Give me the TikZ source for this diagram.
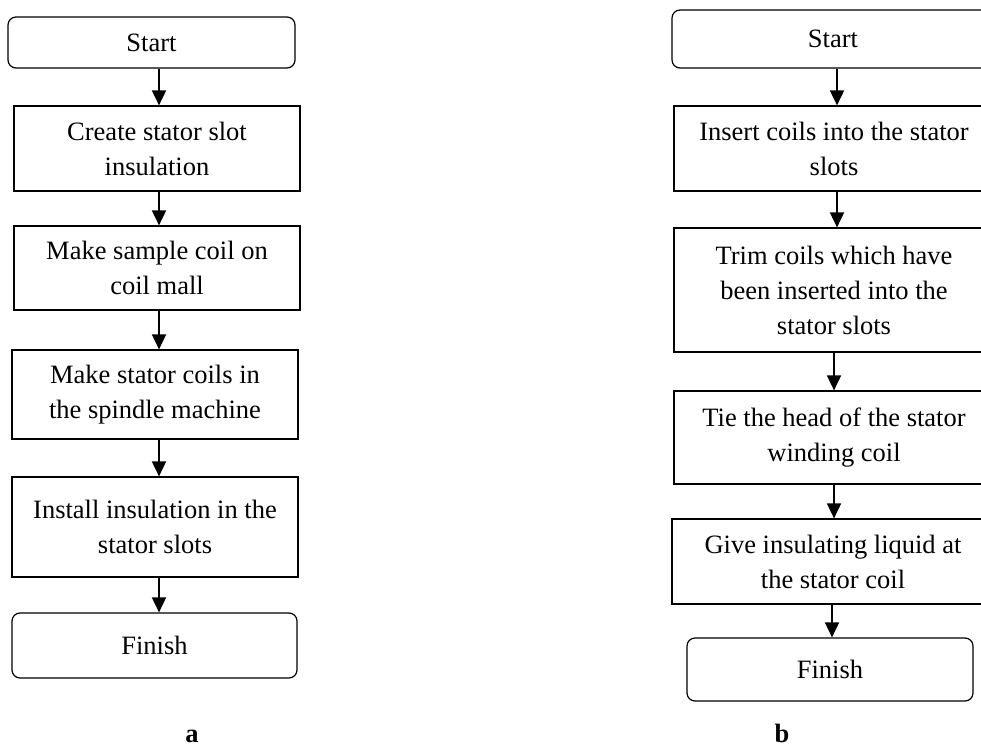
\documentclass[tikz,border=0pt]{standalone}
\usepackage{fontspec}
\setmainfont{Liberation Serif}
\usetikzlibrary{arrows.meta}
\begin{document}
\begin{tikzpicture}[x=1pt,y=-1pt,
  every node/.style={font=\fontsize{26.5}{35}\selectfont},
  stepbox/.style={draw, line width=1.2pt, inner sep=0pt, align=center},
  termbox/.style={stepbox, rounded corners=8pt},
  arr/.style={line width=1.8pt, -{Triangle[length=15pt,width=14pt]}},
  lbl/.style={font=\fontsize{26.5}{35}\selectfont\bfseries, anchor=base}]
\useasboundingbox (0,0) rectangle (981,746);
\clip (0,0) rectangle (981,746);
% left chart
\node[termbox, minimum width=287pt, minimum height=51pt] (s1) at (151.5,42.5) {Start};
\node[stepbox, minimum width=286pt, minimum height=85pt] (s2) at (157,148.5) {Create stator slot\\insulation};
\node[stepbox, minimum width=286pt, minimum height=84pt] (s3) at (157,268) {Make sample coil on\\coil mall};
\node[stepbox, minimum width=286pt, minimum height=89pt] (s4) at (155,394.5) {Make stator coils in\\the spindle machine};
\node[stepbox, minimum width=286pt, minimum height=100pt] (s5) at (155,527) {Install insulation in the\\stator slots};
\node[termbox, minimum width=285pt, minimum height=65pt] (s6) at (154.5,645.5) {Finish};
\coordinate (ax) at (159,0);
\draw[arr] (s1.south -| ax) -- (s2.north -| ax);
\draw[arr] (s2.south -| ax) -- (s3.north -| ax);
\draw[arr] (s3.south -| ax) -- (s4.north -| ax);
\draw[arr] (s4.south -| ax) -- (s5.north -| ax);
\draw[arr] (s5.south -| ax) -- (s6.north -| ax);
\node[lbl] (la) at (192,742) {a};
% right chart
\node[termbox, minimum width=322pt, minimum height=58pt] (r1) at (833,39) {Start};
\node[stepbox, minimum width=320pt, minimum height=85pt] (r2) at (834,148.5) {Insert coils into the stator\\slots};
\node[stepbox, minimum width=320pt, minimum height=124pt] (r3) at (834,290) {Trim coils which have\\been inserted into the\\stator slots};
\node[stepbox, minimum width=320pt, minimum height=93pt] (r4) at (834,437.5) {Tie the head of the stator\\winding coil};
\node[stepbox, minimum width=322pt, minimum height=85pt] (r5) at (833,561.5) {Give insulating liquid at\\the stator coil};
\node[termbox, minimum width=286pt, minimum height=63pt] (r6) at (830,669.5) {Finish};
\coordinate (bx1) at (837,0);
\coordinate (bx2) at (834,0);
\coordinate (bx3) at (832,0);
\draw[arr] (r1.south -| bx1) -- (r2.north -| bx1);
\draw[arr] (r2.south -| bx1) -- (r3.north -| bx1);
\draw[arr] (r3.south -| bx2) -- (r4.north -| bx2);
\draw[arr] (r4.south -| bx2) -- (r5.north -| bx2);
\draw[arr] (r5.south -| bx3) -- (r6.north -| bx3);
\node[lbl] (lb) at (782,742) {b};
\end{tikzpicture}
\end{document}
